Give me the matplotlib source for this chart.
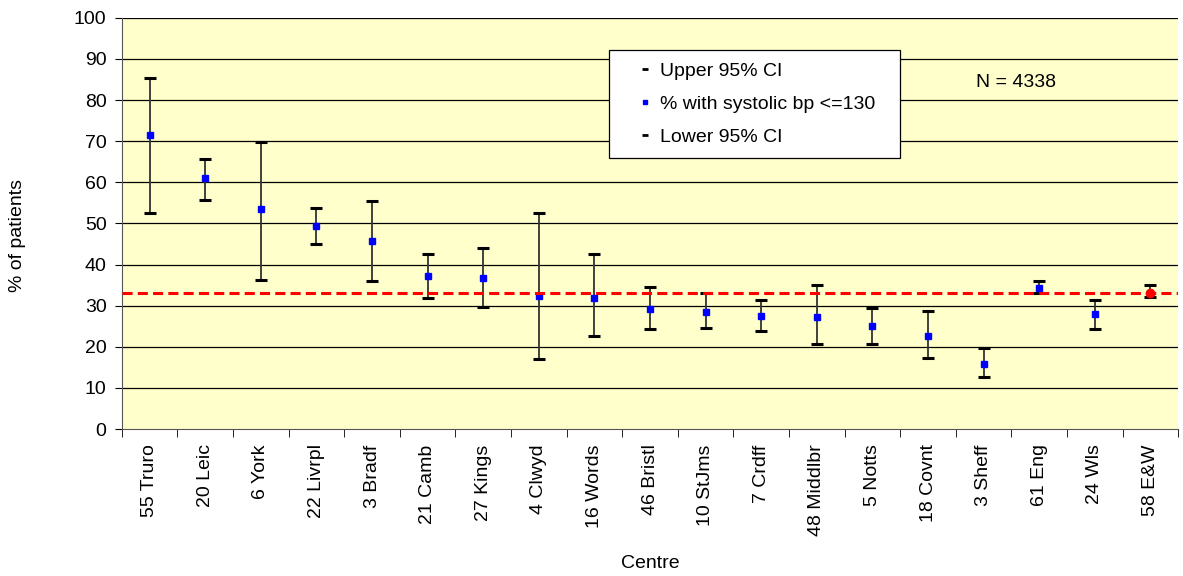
#!/usr/bin/env python3
'''
Percentage of patients with systolic bp <= 130 by centre, with 95% CI
'''
import matplotlib.pyplot as plt
from matplotlib.lines import Line2D
from matplotlib.patches import Rectangle
import numpy as np

plt.rcParams['font.family'] = ['Liberation Sans', 'DejaVu Sans']

PLOT_BG = '#ffffcc'
FS = 14

centres = ['55 Truro', '20 Leic', '6 York', '22 Livrpl', '3 Bradf', '21 Camb',
           '27 Kings', '4 Clwyd', '16 Words', '46 Bristl', '10 StJms',
           '7 Crdff', '48 Middlbr', '5 Notts', '18 Covnt', '3 Sheff',
           '61 Eng', '24 Wls', '58 E&W']
pct = [71.6, 61.0, 53.5, 49.3, 45.7, 37.2, 36.7, 32.4, 31.8, 29.1, 28.5,
       27.6, 27.2, 25.0, 22.6, 15.8, 34.2, 27.9, 33.2]
upper = [85.3, 65.8, 69.8, 53.8, 55.4, 42.7, 44.0, 52.5, 42.7, 34.6, 33.0,
         31.4, 35.0, 29.5, 28.8, 19.7, 35.9, 31.4, 35.1]
lower = [52.5, 55.7, 36.3, 45.1, 36.0, 32.0, 29.8, 17.1, 22.6, 24.3, 24.6,
         23.9, 20.8, 20.8, 17.4, 12.6, 33.0, 24.3, 32.2]
overall = 33.0
n_total = 4338


def main():
    ''' Build the chart '''
    fig = plt.figure(figsize=(11.83, 5.76), dpi=100)
    ax = fig.add_axes([0.103, 0.255, 0.893, 0.714])
    ax.set_facecolor(PLOT_BG)

    x = np.arange(len(centres))
    ax.set_xlim(-0.5, len(centres) - 0.5)
    ax.set_ylim(0, 100)

    # gridlines
    for yv in range(10, 101, 10):
        ax.axhline(yv, color='black', lw=0.9, zorder=1)

    # whiskers
    ax.vlines(x, lower, upper, color='#333333', lw=1.3, zorder=2)
    ax.plot(x, upper, ls='none', marker='_', ms=8, mew=2.2, color='black',
            zorder=3)
    ax.plot(x[:-1], pct[:-1], ls='none', marker='s', ms=4.5, color='#0000ff',
            zorder=4)
    ax.plot(x, lower, ls='none', marker='_', ms=8, mew=2.2, color='black',
            zorder=3)
    ax.plot(x[-1:], pct[-1:], ls='none', marker='o', ms=6, color='#ff0000',
            zorder=5)

    ax.axhline(overall, color='#ff0000', lw=2.2, ls=(0, (3.3, 1.7)), zorder=4)

    # axes styling
    for side in ['top', 'right']:
        ax.spines[side].set_visible(False)
    ax.spines['left'].set_color('#555555')
    ax.spines['bottom'].set_color('#555555')
    ax.set_yticks(range(0, 101, 10))
    ax.tick_params(axis='y', labelsize=FS, length=5, direction='out', pad=6)
    ax.set_xticks(x)
    ax.set_xticklabels(centres, rotation=90, fontsize=FS)
    ax.tick_params(axis='x', length=0, pad=11)
    ax.set_xticks(np.arange(-0.5, len(centres)), minor=True)
    ax.tick_params(axis='x', which='minor', length=6, direction='out')

    fig.text(18 / 1183, 1 - 235 / 576, '% of patients', fontsize=FS,
             rotation=90, ha='center', va='center')
    fig.text(0.5495, 1 - 564 / 576, 'Centre', fontsize=FS,
             ha='center', va='center')

    # legend box
    box = Rectangle((0.4612, 0.6594), 0.2755, 0.2627, transform=ax.transAxes,
                    facecolor='white', edgecolor='black', lw=0.9, zorder=6)
    ax.add_patch(box)
    handles = [
        Line2D([], [], ls='none', marker='_', ms=4, mew=2, color='black'),
        Line2D([], [], ls='none', marker='s', ms=3, color='#0000ff'),
        Line2D([], [], ls='none', marker='_', ms=4, mew=2, color='black'),
    ]
    labels = ['Upper 95% CI', '% with systolic bp <=130', 'Lower 95% CI']
    leg = ax.legend(handles, labels, loc='center',
                    bbox_to_anchor=(0.599, 0.7908), fontsize=FS,
                    frameon=False, handlelength=1.2, handletextpad=0.17,
                    labelspacing=0.8, borderpad=0.2, borderaxespad=0)
    leg.set_zorder(7)

    ax.text(0.846, 0.842, 'N = %d' % n_total, transform=ax.transAxes,
            fontsize=FS, ha='center', va='center')

    fig.savefig('out.png', dpi=100, facecolor='white')


if __name__ == "__main__":
    main()
